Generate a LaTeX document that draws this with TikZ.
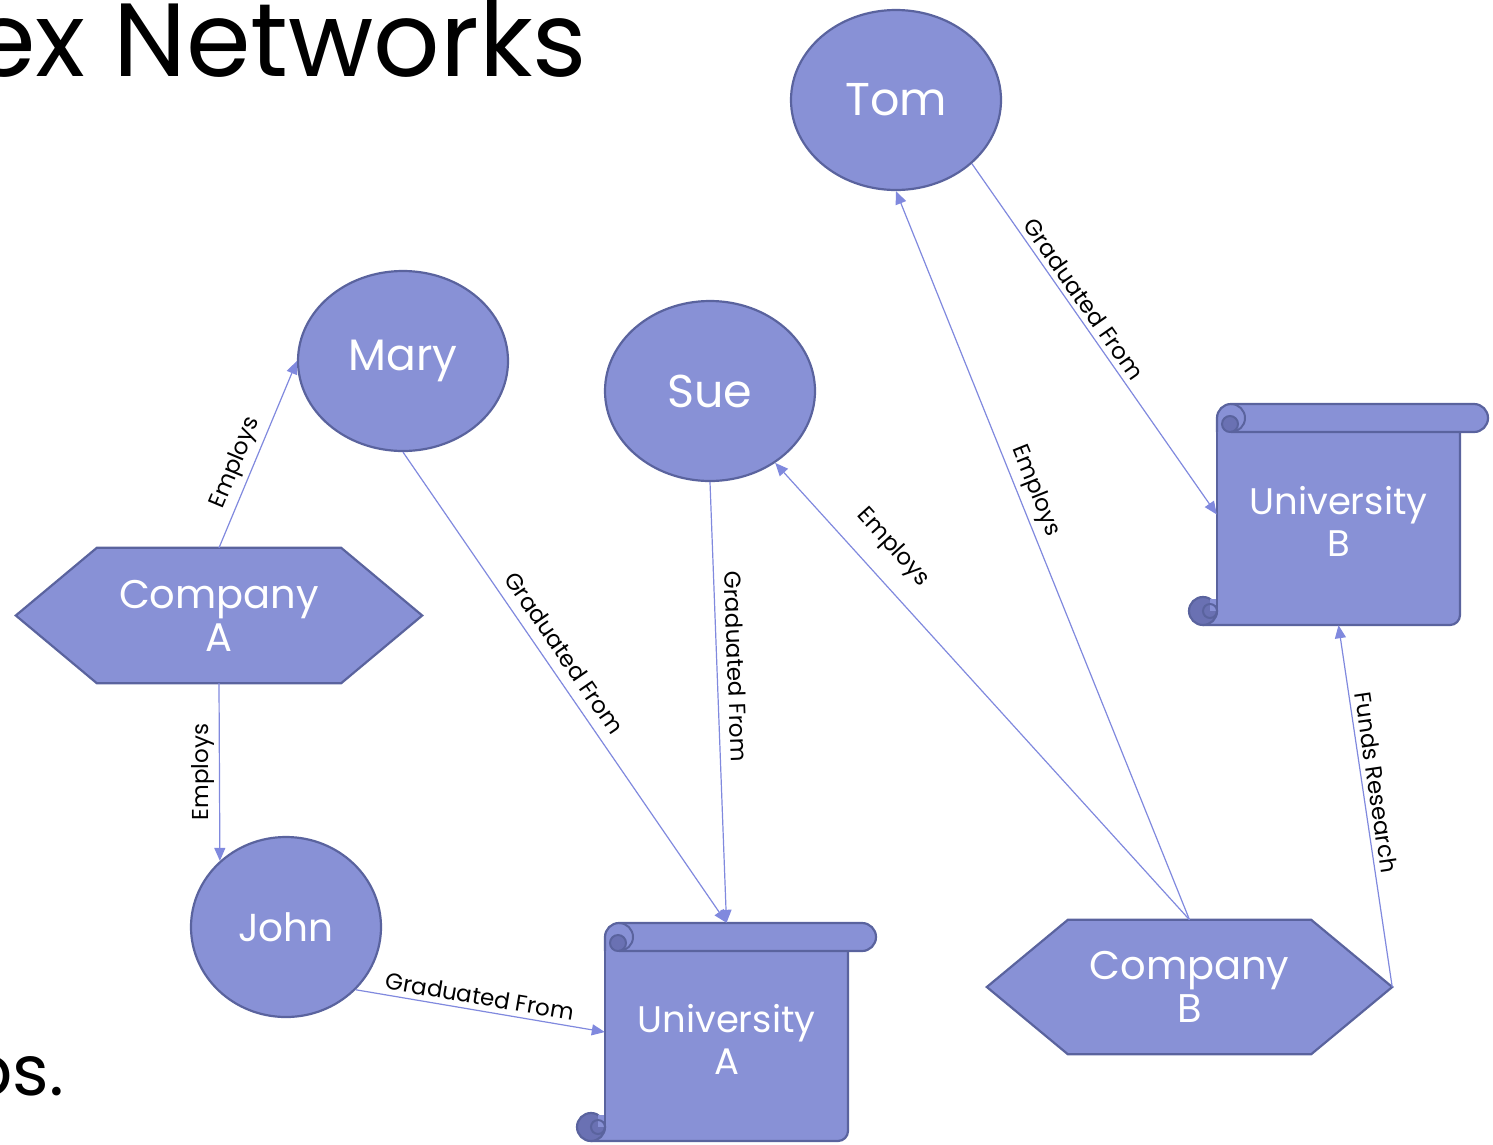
\documentclass[tikz,border=0pt]{standalone}
\usepackage{fontspec}
\setmainfont{Poppins}
\usetikzlibrary{shapes.geometric,arrows.meta,calc}
\pgfdeclarelayer{background}
\pgfsetlayers{background,main}

\definecolor{shapefill}{HTML}{8891D6}
\definecolor{shapedark}{HTML}{6A71B3}
\definecolor{shapeline}{HTML}{5A639E}
\definecolor{edgeline}{HTML}{8089DE}

% scroll: #1 left of body, #2 top of roll, #3 right end of roll, #4 bottom
% roll thickness 28, curl radius 14
\newcommand\scrollshape[4]{%
  % body sheet
  \fill[shapefill] (#1,#2+14) -- (#1,#4-14) -- (#1-14,#4-14) -- (#1-14,#4)
    -- (#3-38,#4) .. controls (#3-32.5,#4) and (#3-28,#4-4.5) .. (#3-28,#4-10)
    -- (#3-28,#2+14) -- cycle;
  \draw[shapeline,line width=2.2pt] (#1,#2+14) -- (#1,#4-14);
  \draw[shapeline,line width=2.2pt] (#1-14,#4)
    -- (#3-38,#4) .. controls (#3-32.5,#4) and (#3-28,#4-4.5) .. (#3-28,#4-10)
    -- (#3-28,#2+28);
  % top roll
  \fill[shapefill] (#1,#2+28) -- (#1,#2+14)
    .. controls (#1,#2+6.27) and (#1+6.27,#2) .. (#1+14,#2)
    -- (#3-14,#2) .. controls (#3-6.27,#2) and (#3,#2+6.27) .. (#3,#2+14)
    .. controls (#3,#2+21.73) and (#3-6.27,#2+28) .. (#3-14,#2+28) -- cycle;
  \draw[shapeline,line width=2.2pt] (#1,#2+28) -- (#1,#2+14)
    .. controls (#1,#2+6.27) and (#1+6.27,#2) .. (#1+14,#2)
    -- (#3-14,#2) .. controls (#3-6.27,#2) and (#3,#2+6.27) .. (#3,#2+14)
    .. controls (#3,#2+21.73) and (#3-6.27,#2+28) .. (#3-14,#2+28)
    -- (#1+14,#2+28);
  % top-left curl
  \filldraw[fill=shapedark,draw=shapeline,line width=2pt]
    (#1+13,#2+20) circle[radius=8];
  \draw[shapeline,line width=2pt] (#1+14,#2)
    .. controls (#1+21.73,#2) and (#1+28,#2+6.27) .. (#1+28,#2+14)
    .. controls (#1+28,#2+21.73) and (#1+21.73,#2+28) .. (#1+14,#2+28);
  % bottom-left curl
  \filldraw[fill=shapedark,draw=shapeline,line width=2.2pt]
    (#1-14,#4-14) circle[radius=14];
  \fill[shapefill] (#1-7,#4-26) rectangle (#1-1,#4-14);
  \draw[shapeline,line width=2pt] (#1-7,#4-14) circle[radius=7];
  \draw[shapeline,line width=2.2pt] (#1,#4-27) -- (#1,#4-14);
}

\begin{document}
\begin{tikzpicture}[x=1pt,y=-1pt,
  person/.style={ellipse,fill=shapefill,draw=shapeline,line width=2.2pt,
    inner sep=0pt,text=white,minimum width=210,minimum height=180},
  textbox/.style={rectangle,inner sep=0pt,text=white,align=center},
  edge/.style={draw=edgeline,line width=1.2pt,
    -{Triangle[length=13pt,width=11pt,fill=edgeline]}},
  lbl/.style={font=\fontsize{23}{23}\selectfont,text=black,inner sep=5pt},
  bigfont/.style={font=\fontsize{#1}{#1}\selectfont}]
\useasboundingbox (0,0) rectangle (1493,1144);
\clip (0,0) rectangle (1493,1144);

% slide text behind the diagram
\node[anchor=base west,bigfont=104,inner sep=0pt] (title) at (-29,76) {ex Networks};
\node[anchor=base east,bigfont=70,inner sep=0pt] (tail) at (64,1095) {ps.};

% people
\node[person,bigfont=46] (tom)  at (896,100) {Tom};
\node[person,bigfont=44] (mary) at (403,361) {Mary};
\node[person,bigfont=46] (sue)  at (710,391) {Sue};
\node[person,bigfont=39,minimum width=190] (john) at (286,927) {John};

% companies (hexagons)
\node[textbox,minimum width=406,minimum height=135,
  font=\fontsize{40}{43}\selectfont] (ca) at (219,615.5) {Company\\A};
\node[textbox,minimum width=405,minimum height=134,
  font=\fontsize{40}{43}\selectfont] (cb) at (1189.5,987) {Company\\B};
\begin{pgfonlayer}{background}
  \foreach \c in {ca,cb}{
    \filldraw[fill=shapefill,draw=shapeline,line width=2.2pt]
      (\c.west) -- ($(\c.north west)+(81,0)$) -- ($(\c.north east)+(-81,0)$)
      -- (\c.east) -- ($(\c.south east)+(-81,0)$) -- ($(\c.south west)+(81,0)$)
      -- cycle;
  }
\end{pgfonlayer}

% universities (scrolls)
\tikzset{scrolltext/.style={text=white,align=center,inner sep=0pt,
  font=\fontsize{37}{42}\selectfont,yshift=-7pt}}
\node[textbox,minimum width=243,minimum height=218,
  label={[scrolltext]center:{University\\A}}] (ua) at (726.5,1032) {};
\node[textbox,minimum width=243,minimum height=221,
  label={[scrolltext]center:{University\\B}}] (ub) at (1338.5,514.5) {};
\begin{pgfonlayer}{background}
  \scrollshape{605}{923}{876}{1141}
  \scrollshape{1217}{404}{1488}{625}
\end{pgfonlayer}

% relations
\draw[edge] (ca.north) -- node[lbl,sloped,above,pos=.42] {Employs} (mary.west);
\draw[edge] (ca.south) -- node[lbl,rotate=90,anchor=south,pos=.5,inner sep=4pt] {Employs} (john.135);
\draw[edge] (mary.south) -- node[lbl,sloped,above=5pt,pos=.45] {Graduated From} (ua.north);
\draw[edge] (sue.south) -- node[lbl,sloped,above=5pt,pos=.42] {Graduated From} (ua.north);
\draw[edge] (john.-42) -- node[lbl,sloped,above,pos=.49] {Graduated From} (ua.west);
\draw[edge] (tom.-40) -- node[lbl,sloped,above,pos=.41] {Graduated From} (ub.west);
\draw[edge] (cb.north) -- node[lbl,sloped,above,pos=.58] {Employs} (tom.south);
\draw[edge] (cb.north) -- node[lbl,sloped,above=13pt,pos=.77] {Employs} (sue);
\draw[edge] (cb.east) -- node[lbl,sloped,above,pos=.56] {Funds Research} (ub.south);
\end{tikzpicture}
\end{document}
